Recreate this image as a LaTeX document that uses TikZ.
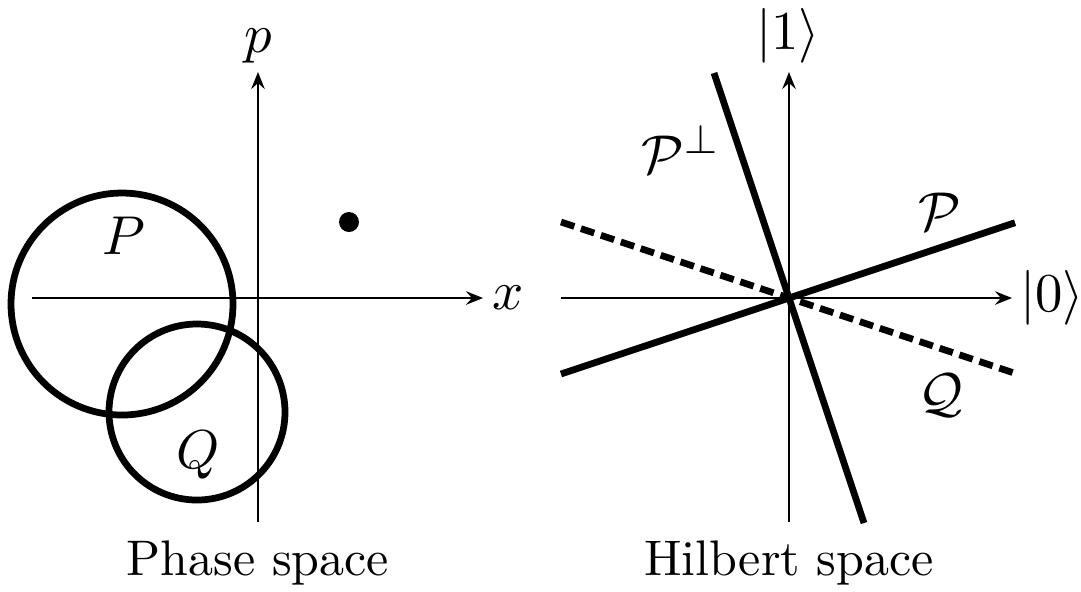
\documentclass[tikz,border=0pt]{standalone}
\usetikzlibrary{arrows.meta}
\begin{document}
\begin{tikzpicture}[x=0.2pt,y=-0.2pt,
  axis/.style={line width=0.5pt,-{Stealth[length=3.4pt,width=2.7pt,inset=1.2pt]}},
  region/.style={line width=1.35pt},
  subspace/.style={line width=1.35pt},
  qspace/.style={line width=1.35pt,dash pattern=on 2.8pt off 1.4pt},
  lbl/.style={inner sep=0pt,font=\fontsize{11}{13}\selectfont},
  caption/.style={inner sep=0pt,anchor=base,font=\fontsize{10}{12}\selectfont}]
\useasboundingbox (0,0) rectangle (1081,591);
% ---------- Phase space ----------
\coordinate (xl) at (32,298);
\coordinate (xr) at (483,298);
\coordinate (pb) at (258,522);
\coordinate (pt) at (258,72);
\draw[axis] (xl) -- (xr);
\draw[axis] (pb) -- (pt);
\node[lbl] (xlab) at (508,298) {$x$};
\node[lbl] (plab) at (258,46) {$p$};
\draw[region] (122,304) circle[radius=111];
\draw[region] (197,412) circle[radius=88];
\node[lbl] (Plab) at (124,236) {$P$};
\node[lbl] (Qlab) at (198,455) {$Q$};
\fill (349,222) circle[radius=10];
\node[caption] (phase) at (258,575) {Phase space};
% ---------- Hilbert space ----------
\coordinate (O) at (789,298);
\coordinate (hl) at (561,298);
\coordinate (hr) at (1012,298);
\coordinate (vb) at (789,522);
\coordinate (vt) at (789,72);
\draw[axis] (hl) -- (hr);
\draw[axis] (vb) -- (vt);
\node[lbl] (ket0) at (1052,298) {$|0\rangle$};
\node[lbl] (ket1) at (788,36) {$|1\rangle$};
\coordinate (Pa) at (561,374);
\coordinate (Pb) at (1015,222.7);
\coordinate (Ppa) at (714,73);
\coordinate (Ppb) at (864,523);
\coordinate (Qa) at (561,222);
\coordinate (Qb) at (1015,373.3);
\draw[qspace] (Qa) -- (Qb);
\draw[subspace] (Pa) -- (Pb);
\draw[subspace] (Ppa) -- (Ppb);
\node[lbl] (Pperp) at (681,150) {$\mathcal{P}^{\perp}$};
\node[lbl] (Pcal) at (940,212) {$\mathcal{P}$};
\node[lbl] (Qcal) at (941,395) {$\mathcal{Q}$};
\node[caption] (hilbert) at (789,575) {Hilbert space};
\end{tikzpicture}
\end{document}
